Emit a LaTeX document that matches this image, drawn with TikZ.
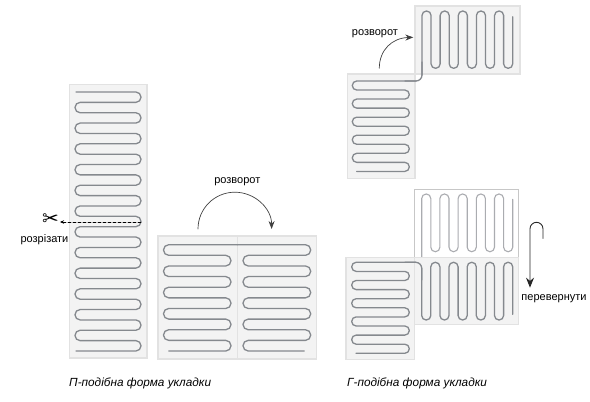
\documentclass[tikz,border=0pt]{standalone}
\usepackage{fontspec}
\setmainfont{Liberation Sans}
\newfontfamily\symfont{DejaVu Sans}
\usetikzlibrary{arrows.meta}
\definecolor{matfill}{HTML}{F3F3F3}
\definecolor{matedge}{HTML}{E2E2E2}
\definecolor{pipecol}{HTML}{85898E}
% start, first turn, second turn, end, top row, row step, rows
\newcommand{\hpipe}[7]{%
	\draw[pipe,rounded corners={(#6)/2*0.98}] (#1,#5)
	\foreach \i in {0,...,\numexpr#7-2\relax} {
		-- ({ifthenelse(mod(\i,2)==0,#2,#3)},{#5+\i*#6})
		-- ({ifthenelse(mod(\i,2)==0,#2,#3)},{#5+(\i+1)*#6})
	} -- (#4,{#5+(#7-1)*#6});
}
% the same, standing upright
\newcommand{\vpipe}[8][pipe]{%
	\draw[#1,rounded corners={(#7)/2*0.98}] (#6,#2)
	\foreach \i in {0,...,\numexpr#8-2\relax} {
		-- ({#6+\i*#7},{ifthenelse(mod(\i,2)==0,#3,#4)})
		-- ({#6+(\i+1)*#7},{ifthenelse(mod(\i,2)==0,#3,#4)})
	} -- ({#6+(#8-1)*#7},#5);
}
\begin{document}
\begin{tikzpicture}[
	x=1pt,
	y=-1pt,
	>=Stealth,
	line cap=round,
	mat/.style={fill=matfill,draw=matedge,line width=1.2pt},
	pipe/.style={draw=pipecol,line width=1.3pt},
	pipelight/.style={draw=pipecol!70,line width=1.1pt},
	turnarrow/.style={draw=black!75,line width=0.7pt,-{Stealth[length=8pt,width=6pt]}},
	lbl/.style={font=\fontsize{11}{13}\selectfont,inner sep=0pt},
	caption/.style={font=\fontsize{11.8}{13}\selectfont\itshape,inner sep=0pt,anchor=west}
	]
	\useasboundingbox (0,0) rectangle (590,402);
	
	% long strip
	\draw[mat] (69.5,84.5) rectangle (147,358);
	\hpipe{76}{141}{75}{76}{92}{10.36}{26}
	
	% cut
	\node[font=\symfont\fontsize{20}{20}\selectfont,inner sep=0pt] (scissors) at (50.5,220) {✂};
	\coordinate (cutend) at (141,222);
	\coordinate (cuttip) at (60,222);
	\draw[densely dashed,line width=0.6pt,-{Stealth[length=4pt,width=3.5pt]}] (cutend) -- (cuttip);
	\node[lbl] (cutlabel) at (44.5,240) {розрізати};
	
	% strip after the cut
	\draw[mat] (158,236) rectangle (316.5,359);
	\draw[draw=matedge,line width=1pt] (237.3,236) -- (237.3,359);
	\hpipe{237.3}{163.5}{231}{168.7}{244.7}{10.63}{11}
	\hpipe{237.3}{310.7}{243}{304.3}{244.7}{10.63}{11}
	
	\node[lbl] (turnlabel) at (237.3,182) {розворот};
	\coordinate (turnfrom) at (198,229);
	\draw[turnarrow] (turnfrom) arc[start angle=180,end angle=360,radius=36.8];
	
	% corner, top
	\draw[mat] (415,6) rectangle (520,74);
	\draw[mat] (347.5,74) rectangle (415,178.5);
	\hpipe{416}{352.3}{409.3}{356.7}{81}{9.04}{11}
	\vpipe{75}{11}{68.3}{16.7}{422}{9.07}{11}
	\draw[pipe,rounded corners=6pt] (405,81) -- (422,81) -- (422,62);
	\node[lbl] (turnlabeltop) at (375,34) {розворот};
	\coordinate (turntopfrom) at (379.3,68.3);
	\coordinate (turntopto) at (413.3,37.3);
	\draw[turnarrow] (turntopfrom) .. controls (379.3,50) and (392,38) .. (turntopto);
	
	% corner, bottom
	\draw[draw=black!22,fill=white,line width=1.1pt] (414.5,189.5) rectangle (518.5,257.5);
	\vpipe[pipelight]{257}{194}{251.7}{199.3}{421.7}{9.1}{11}
	\draw[mat] (414.5,257.5) rectangle (518.5,324.7);
	\draw[mat] (346,257.5) rectangle (414.5,359.3);
	\hpipe{416}{351.7}{409.3}{356}{262.3}{9.1}{11}
	\vpipe{268}{320}{262.3}{314.3}{421.7}{9.1}{11}
	\draw[pipe,rounded corners=6pt] (405,262.3) -- (421.7,262.3) -- (421.7,280);
	
	\coordinate (flipfrom) at (543,238.3);
	\coordinate (fliptip) at (530,287.7);
	\draw[line width=0.9pt,draw=black!85,-{Stealth[length=10pt,width=8pt]}] (flipfrom) -- (543,228.8) arc[start angle=0,end angle=-180,radius=6.5] -- (fliptip);
	\node[lbl] (fliplabel) at (554,299) {перевернути};
	
	% captions
	\node[caption] (captionleft) at (69,383.5) {П-подібна форма укладки};
	\node[caption] (captionright) at (347,383) {Г-подібна форма укладки};
\end{tikzpicture}
\end{document}
